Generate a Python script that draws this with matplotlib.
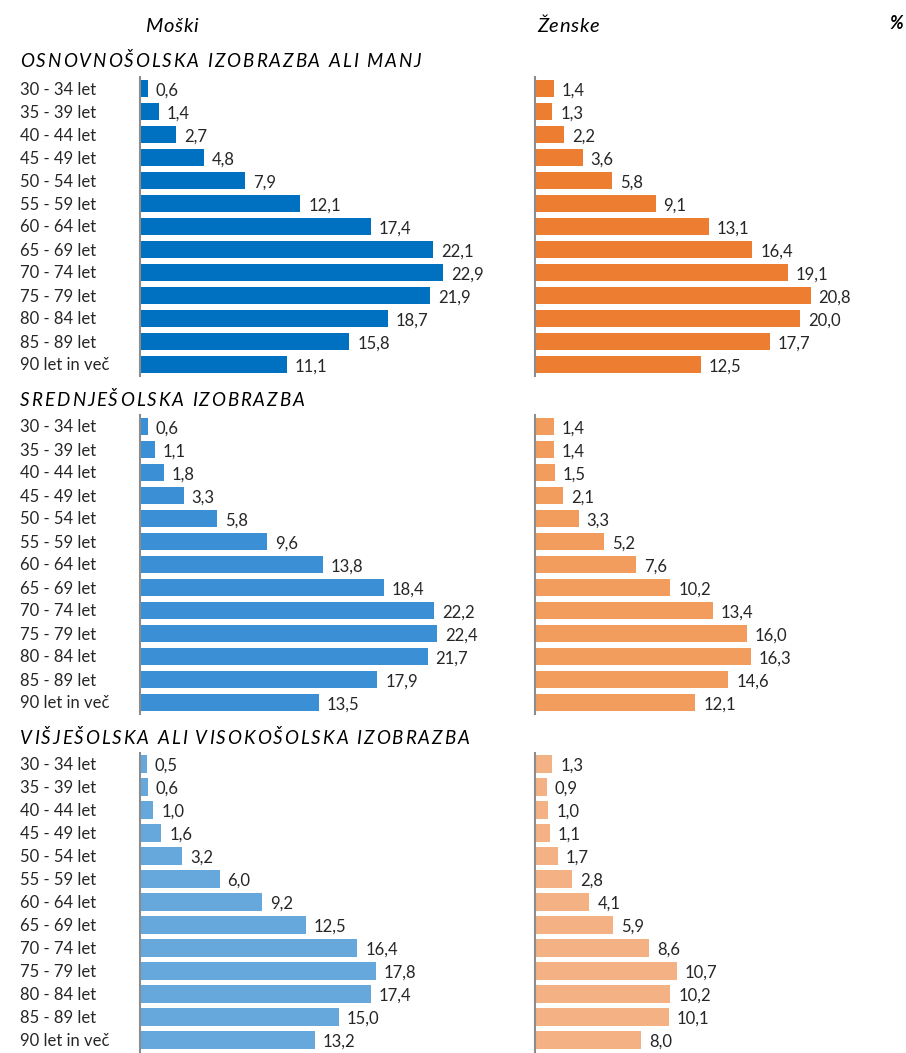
import matplotlib
matplotlib.use("Agg")
import matplotlib.pyplot as plt
from matplotlib.transforms import blended_transform_factory
from matplotlib.font_manager import FontProperties

plt.rcParams['font.family'] = ['Lato', 'DejaVu Sans']

age_groups = ["30 - 34 let", "35 - 39 let", "40 - 44 let", "45 - 49 let", "50 - 54 let",
              "55 - 59 let", "60 - 64 let", "65 - 69 let", "70 - 74 let", "75 - 79 let",
              "80 - 84 let", "85 - 89 let", "90 let in več"]

panel_titles = ["OSNOVNOŠOLSKA IZOBRAZBA ALI MANJ",
                "SREDNJEŠOLSKA IZOBRAZBA",
                "VIŠJEŠOLSKA ALI VISOKOŠOLSKA IZOBRAZBA"]

men_primary = [0.6, 1.4, 2.7, 4.8, 7.9, 12.1, 17.4, 22.1, 22.9, 21.9, 18.7, 15.8, 11.1]
men_secondary = [0.6, 1.1, 1.8, 3.3, 5.8, 9.6, 13.8, 18.4, 22.2, 22.4, 21.7, 17.9, 13.5]
men_tertiary = [0.5, 0.6, 1.0, 1.6, 3.2, 6.0, 9.2, 12.5, 16.4, 17.8, 17.4, 15.0, 13.2]

women_primary = [1.4, 1.3, 2.2, 3.6, 5.8, 9.1, 13.1, 16.4, 19.1, 20.8, 20.0, 17.7, 12.5]
women_secondary = [1.4, 1.4, 1.5, 2.1, 3.3, 5.2, 7.6, 10.2, 13.4, 16.0, 16.3, 14.6, 12.1]
women_tertiary = [1.3, 0.9, 1.0, 1.1, 1.7, 2.8, 4.1, 5.9, 8.6, 10.7, 10.2, 10.1, 8.0]

men_series = [men_primary, men_secondary, men_tertiary]
women_series = [women_primary, women_secondary, women_tertiary]
men_colors = ["#0070C0", "#3A8FD5", "#66A8DB"]
women_colors = ["#ED7D31", "#F29C5E", "#F4B183"]

W, H = 906, 1053
fig = plt.figure(figsize=(W / 100, H / 100), dpi=100)
fig.patch.set_facecolor("white")

px_per_unit = 13.25
xmax = 25
panels_px = [(77, 376), (415, 714), (752.5, 1051.5)]
title_baselines = [67, 406, 744]
title_widths = [401, 284, 449]
men_left = 140
women_left = 535

text_color = "#262626"
renderer = fig.canvas.get_renderer()


def spaced_text(x_px, y_px, s, target_width, fontsize, style="italic", weight="normal"):
    prop = FontProperties(family=['Lato', 'DejaVu Sans'], size=fontsize, style=style, weight=weight)
    base = renderer.get_text_width_height_descent("XX", prop, ismath=False)[0]
    advances = []
    for c in s:
        w = renderer.get_text_width_height_descent("X" + c + "X", prop, ismath=False)[0] - base
        advances.append(w)
    natural = sum(advances)
    tracking = (target_width - natural) / max(len(s) - 1, 1)
    x = x_px
    for c, adv in zip(s, advances):
        if c != " ":
            fig.text(x / W, 1 - y_px / H, c, fontproperties=prop, ha="left", va="baseline",
                     color="black")
        x += adv + tracking


for i in range(3):
    top, bottom = panels_px[i]
    for left, series, color in ((men_left, men_series[i], men_colors[i]),
                                (women_left, women_series[i], women_colors[i])):
        ax = fig.add_axes([left / W, 1 - bottom / H, xmax * px_per_unit / W, (bottom - top) / H])
        y = list(range(len(age_groups)))
        ax.barh(y, series, height=0.75, color=color, edgecolor="none")
        ax.set_xlim(0, xmax)
        ax.set_ylim(len(age_groups) - 0.5, -0.5)
        for sp in ("top", "right", "bottom"):
            ax.spines[sp].set_visible(False)
        ax.spines["left"].set_color("#8C8C8C")
        ax.spines["left"].set_linewidth(1.5)
        ax.set_xticks([])
        ax.set_yticks([])
        ax.patch.set_alpha(0)
        for yy, v in zip(y, series):
            ax.annotate(f"{v:.1f}".replace(".", ","), xy=(v, yy), xytext=(8, -2),
                        textcoords="offset pixels", ha="left", va="center",
                        fontsize=12, color=text_color)
        if left == men_left:
            tr = blended_transform_factory(fig.transFigure, ax.transData)
            for yy, lab in zip(y, age_groups):
                ax.annotate(lab, xy=(20 / W, yy), xycoords=tr, xytext=(0, -1),
                            textcoords="offset pixels", ha="left", va="center",
                            fontsize=12, color=text_color)
    spaced_text(20, title_baselines[i], panel_titles[i], title_widths[i], 13.5)

spaced_text(145, 32, "Moški", 53, 14.5)
spaced_text(537, 32, "Ženske", 62, 14.5)
fig.text(903 / W, 1 - 29 / H, "%", ha="right", va="baseline", fontsize=13,
         style="italic", weight="bold", color="black")

fig.savefig("out.png", dpi=100, facecolor="white")
